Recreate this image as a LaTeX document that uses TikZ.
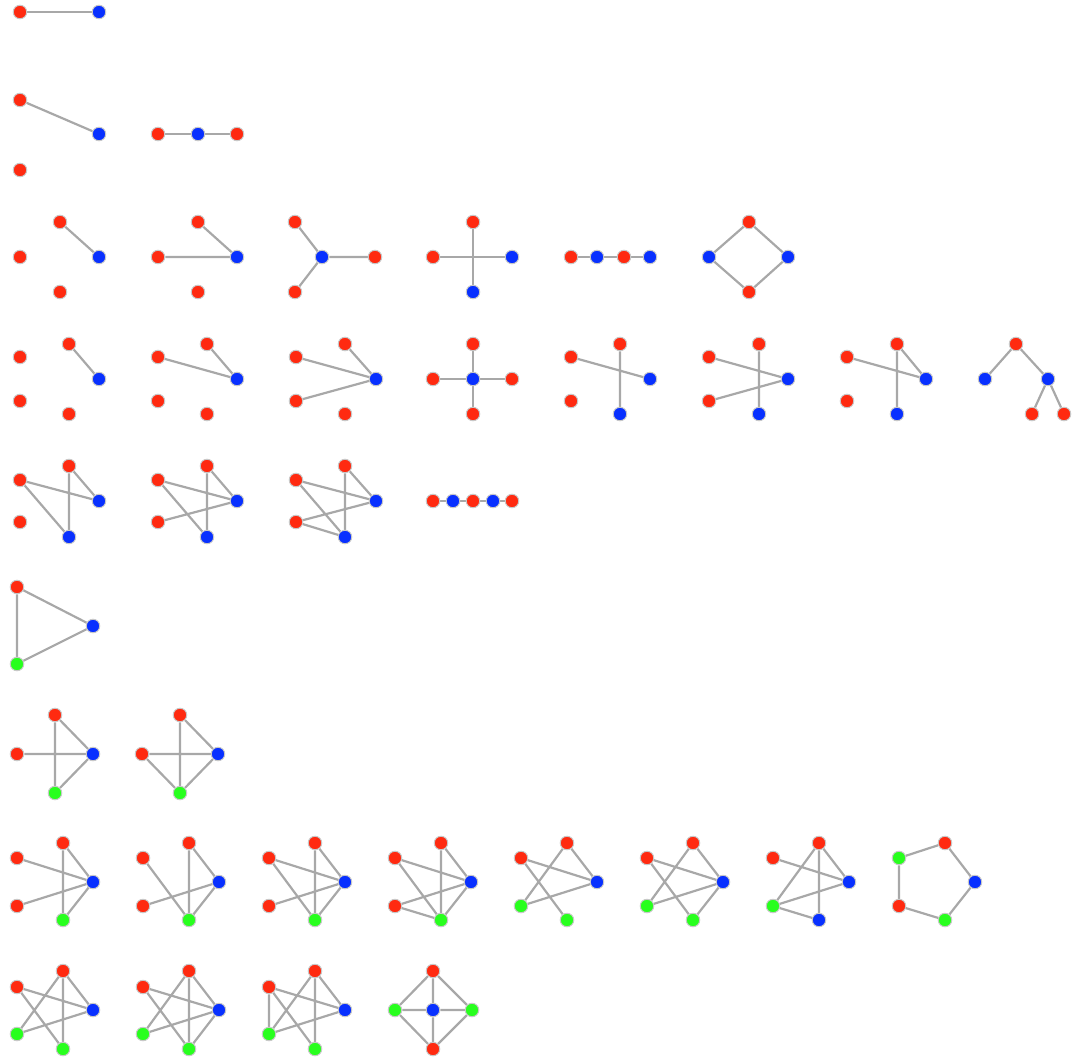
\documentclass[tikz,border=0pt]{standalone}
\usetikzlibrary{backgrounds}
\definecolor{vr}{RGB}{255,42,16}
\definecolor{vb}{RGB}{8,48,255}
\definecolor{vg}{RGB}{40,255,30}
\definecolor{eg}{RGB}{168,168,168}
\definecolor{og}{RGB}{200,200,200}
\tikzset{
  vtx/.style={circle,draw=og,line width=1pt,minimum size=13.5pt,inner sep=0pt},
  R/.style={vtx,fill=vr},
  B/.style={vtx,fill=vb},
  G/.style={vtx,fill=vg},
  edge/.style={draw=eg,line width=2.2pt}
}
\begin{document}
\begin{tikzpicture}[x=1pt,y=-1pt]
\useasboundingbox (0,0) rectangle (1072,1058);
% Row 1
\node[R] (a1) at (20,12) {}; \node[B] (a2) at (99,12) {};
% Row 2
\node[R] (b1) at (20,100) {}; \node[B] (b2) at (99,134) {}; \node[R] (b3) at (20,170) {};
\node[R] (c1) at (158,134) {}; \node[B] (c2) at (198,134) {}; \node[R] (c3) at (237,134) {};
% Row 3
\node[R] (d1) at (20,257) {}; \node[R] (d2) at (60,222) {}; \node[B] (d3) at (99,257) {}; \node[R] (d4) at (60,292) {};
\node[R] (e1) at (158,257) {}; \node[R] (e2) at (198,222) {}; \node[B] (e3) at (237,257) {}; \node[R] (e4) at (198,292) {};
\node[R] (f1) at (295,222) {}; \node[B] (f2) at (322,257) {}; \node[R] (f3) at (375,257) {}; \node[R] (f4) at (295,292) {};
\node[R] (h1) at (473,222) {}; \node[R] (h2) at (433,257) {}; \node[B] (h3) at (512,257) {}; \node[B] (h4) at (473,292) {};
\node[R] (i1) at (571,257) {}; \node[B] (i2) at (597,257) {}; \node[R] (i3) at (624,257) {}; \node[B] (i4) at (650,257) {};
\node[R] (j1) at (749,222) {}; \node[B] (j2) at (709,257) {}; \node[B] (j3) at (788,257) {}; \node[R] (j4) at (749,292) {};
% Row 4
\node[R] (k1) at (20,357) {}; \node[R] (k2) at (69,344) {}; \node[B] (k3) at (99,379) {}; \node[R] (k4) at (20,401) {}; \node[R] (k5) at (69,414) {};
\node[R] (l1) at (158,357) {}; \node[R] (l2) at (207,344) {}; \node[B] (l3) at (237,379) {}; \node[R] (l4) at (158,401) {}; \node[R] (l5) at (207,414) {};
\node[R] (m1) at (296,357) {}; \node[R] (m2) at (345,344) {}; \node[B] (m3) at (376,379) {}; \node[R] (m4) at (296,401) {}; \node[R] (m5) at (345,414) {};
\node[B] (n0) at (473,379) {}; \node[R] (n1) at (473,344) {}; \node[R] (n2) at (433,379) {}; \node[R] (n3) at (512,379) {}; \node[R] (n4) at (473,414) {};
\node[R] (o1) at (571,357) {}; \node[R] (o2) at (620,344) {}; \node[B] (o3) at (650,379) {}; \node[R] (o4) at (571,401) {}; \node[B] (o5) at (620,414) {};
\node[R] (p1) at (709,357) {}; \node[R] (p2) at (759,344) {}; \node[B] (p3) at (788,379) {}; \node[R] (p4) at (709,401) {}; \node[B] (p5) at (759,414) {};
\node[R] (q1) at (847,357) {}; \node[R] (q2) at (897,344) {}; \node[B] (q3) at (926,379) {}; \node[R] (q4) at (847,401) {}; \node[B] (q5) at (897,414) {};
\node[R] (r1) at (1016,344) {}; \node[B] (r2) at (985,379) {}; \node[B] (r3) at (1048,379) {}; \node[R] (r4) at (1032,414) {}; \node[R] (r5) at (1064,414) {};
% Row 5
\node[R] (s1) at (20,480) {}; \node[R] (s2) at (69,466) {}; \node[B] (s3) at (99,501) {}; \node[R] (s4) at (20,522) {}; \node[B] (s5) at (69,537) {};
\node[R] (t1) at (158,480) {}; \node[R] (t2) at (207,466) {}; \node[B] (t3) at (237,501) {}; \node[R] (t4) at (158,522) {}; \node[B] (t5) at (207,537) {};
\node[R] (u1) at (296,480) {}; \node[R] (u2) at (345,466) {}; \node[B] (u3) at (376,501) {}; \node[R] (u4) at (296,522) {}; \node[B] (u5) at (345,537) {};
\node[R] (v1) at (433,501) {}; \node[B] (v2) at (453,501) {}; \node[R] (v3) at (473,501) {}; \node[B] (v4) at (493,501) {}; \node[R] (v5) at (512,501) {};
% Row 6
\node[R] (w1) at (17,587) {}; \node[B] (w2) at (93,626) {}; \node[G] (w3) at (17,664) {};
% Row 7
\node[R] (x1) at (55,715) {}; \node[R] (x2) at (17,754) {}; \node[B] (x3) at (93,754) {}; \node[G] (x4) at (55,793) {};
\node[R] (y1) at (180,715) {}; \node[R] (y2) at (142,754) {}; \node[B] (y3) at (218,754) {}; \node[G] (y4) at (180,793) {};
% Row 8
\node[R] (za1) at (17,858) {}; \node[R] (za2) at (63,843) {}; \node[B] (za3) at (93,882) {}; \node[R] (za4) at (17,906) {}; \node[G] (za5) at (63,920) {};
\node[R] (zb1) at (143,858) {}; \node[R] (zb2) at (189,843) {}; \node[B] (zb3) at (219,882) {}; \node[R] (zb4) at (143,906) {}; \node[G] (zb5) at (189,920) {};
\node[R] (zc1) at (269,858) {}; \node[R] (zc2) at (315,843) {}; \node[B] (zc3) at (345,882) {}; \node[R] (zc4) at (269,906) {}; \node[G] (zc5) at (315,920) {};
\node[R] (zd1) at (395,858) {}; \node[R] (zd2) at (441,843) {}; \node[B] (zd3) at (471,882) {}; \node[R] (zd4) at (395,906) {}; \node[G] (zd5) at (441,920) {};
\node[R] (ze1) at (521,858) {}; \node[R] (ze2) at (567,843) {}; \node[B] (ze3) at (597,882) {}; \node[G] (ze4) at (521,906) {}; \node[G] (ze5) at (567,920) {};
\node[R] (zf1) at (647,858) {}; \node[R] (zf2) at (693,843) {}; \node[B] (zf3) at (723,882) {}; \node[G] (zf4) at (647,906) {}; \node[G] (zf5) at (693,920) {};
\node[R] (zg1) at (773,858) {}; \node[R] (zg2) at (819,843) {}; \node[B] (zg3) at (849,882) {}; \node[G] (zg4) at (773,906) {}; \node[B] (zg5) at (819,920) {};
\node[G] (zh1) at (899,858) {}; \node[R] (zh2) at (945,843) {}; \node[B] (zh3) at (975,882) {}; \node[R] (zh4) at (899,906) {}; \node[G] (zh5) at (945,920) {};
% Row 9
\node[R] (ya1) at (17,987) {}; \node[R] (ya2) at (63,971) {}; \node[B] (ya3) at (93,1010) {}; \node[G] (ya4) at (17,1034) {}; \node[G] (ya5) at (63,1049) {};
\node[R] (yb1) at (143,987) {}; \node[R] (yb2) at (189,971) {}; \node[B] (yb3) at (219,1010) {}; \node[G] (yb4) at (143,1034) {}; \node[G] (yb5) at (189,1049) {};
\node[R] (yc1) at (269,987) {}; \node[R] (yc2) at (315,971) {}; \node[B] (yc3) at (345,1010) {}; \node[G] (yc4) at (269,1034) {}; \node[G] (yc5) at (315,1049) {};
\node[R] (yd1) at (433,971) {}; \node[G] (yd2) at (395,1010) {}; \node[B] (yd3) at (433,1010) {}; \node[G] (yd4) at (472,1010) {}; \node[R] (yd5) at (433,1049) {};

\begin{pgfonlayer}{background}
\path[edge] (a1)--(a2);
\path[edge] (b1)--(b2);
\path[edge] (c1)--(c2) (c2)--(c3);
\path[edge] (d2)--(d3);
\path[edge] (e2)--(e3) (e1)--(e3);
\path[edge] (f1)--(f2) (f2)--(f3) (f4)--(f2);
\path[edge] (h2)--(h3) (h1)--(h4);
\path[edge] (i1)--(i2) (i2)--(i3) (i3)--(i4);
\path[edge] (j1)--(j2) (j1)--(j3) (j2)--(j4) (j3)--(j4);
\path[edge] (k2)--(k3);
\path[edge] (l2)--(l3) (l1)--(l3);
\path[edge] (m2)--(m3) (m1)--(m3) (m4)--(m3);
\path[edge] (n0)--(n1) (n0)--(n2) (n0)--(n3) (n0)--(n4);
\path[edge] (o1)--(o3) (o2)--(o5);
\path[edge] (p1)--(p3) (p4)--(p3) (p2)--(p5);
\path[edge] (q1)--(q3) (q2)--(q3) (q2)--(q5);
\path[edge] (r1)--(r2) (r1)--(r3) (r3)--(r4) (r3)--(r5);
\path[edge] (s1)--(s3) (s1)--(s5) (s2)--(s5) (s2)--(s3);
\path[edge] (t1)--(t3) (t1)--(t5) (t2)--(t5) (t2)--(t3) (t4)--(t3);
\path[edge] (u1)--(u3) (u1)--(u5) (u2)--(u5) (u2)--(u3) (u4)--(u3) (u4)--(u5);
\path[edge] (v1)--(v2) (v2)--(v3) (v3)--(v4) (v4)--(v5);
\path[edge] (w1)--(w2) (w2)--(w3) (w3)--(w1);
\path[edge] (x2)--(x3) (x1)--(x4) (x1)--(x3) (x3)--(x4);
\path[edge] (y2)--(y3) (y1)--(y4) (y1)--(y3) (y3)--(y4) (y2)--(y4);
\path[edge] (za1)--(za3) (za4)--(za3) (za2)--(za5) (za2)--(za3) (za3)--(za5);
\path[edge] (zb1)--(zb5) (zb4)--(zb3) (zb2)--(zb5) (zb2)--(zb3) (zb3)--(zb5);
\path[edge] (zc1)--(zc3) (zc1)--(zc5) (zc4)--(zc3) (zc2)--(zc5) (zc2)--(zc3) (zc3)--(zc5);
\path[edge] (zd1)--(zd3) (zd1)--(zd5) (zd4)--(zd3) (zd4)--(zd5) (zd2)--(zd5) (zd2)--(zd3) (zd3)--(zd5);
\path[edge] (ze1)--(ze3) (ze1)--(ze5) (ze2)--(ze4) (ze2)--(ze3) (ze4)--(ze3);
\path[edge] (zf1)--(zf3) (zf1)--(zf5) (zf2)--(zf4) (zf2)--(zf3) (zf4)--(zf3) (zf3)--(zf5);
\path[edge] (zg1)--(zg3) (zg2)--(zg4) (zg2)--(zg3) (zg2)--(zg5) (zg4)--(zg3) (zg4)--(zg5);
\path[edge] (zh1)--(zh2) (zh2)--(zh3) (zh3)--(zh5) (zh5)--(zh4) (zh4)--(zh1);
\path[edge] (ya1)--(ya3) (ya1)--(ya5) (ya2)--(ya4) (ya2)--(ya3) (ya2)--(ya5) (ya4)--(ya3);
\path[edge] (yb1)--(yb3) (yb1)--(yb5) (yb2)--(yb4) (yb2)--(yb3) (yb2)--(yb5) (yb4)--(yb3) (yb3)--(yb5);
\path[edge] (yc1)--(yc3) (yc1)--(yc5) (yc2)--(yc4) (yc2)--(yc3) (yc2)--(yc5) (yc4)--(yc3) (yc1)--(yc4);
\path[edge] (yd1)--(yd2) (yd1)--(yd3) (yd1)--(yd4) (yd2)--(yd3) (yd3)--(yd4) (yd2)--(yd5) (yd3)--(yd5) (yd4)--(yd5);
\end{pgfonlayer}
\end{tikzpicture}
\end{document}
